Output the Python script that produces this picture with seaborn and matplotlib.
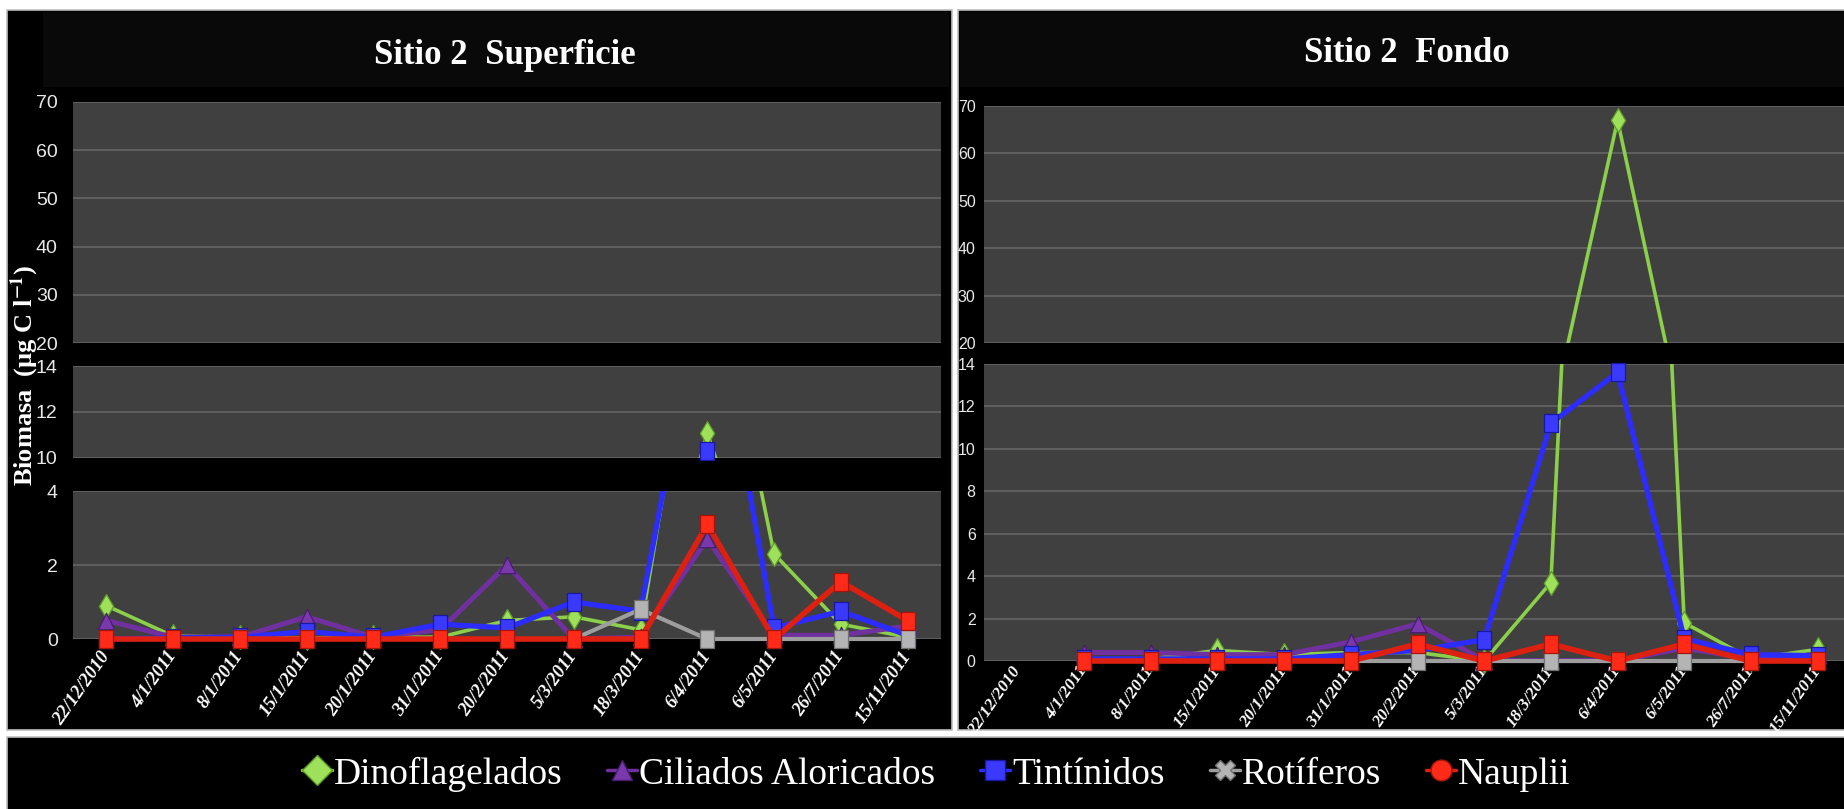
import numpy as np
import pandas as pd
import matplotlib
matplotlib.use('Agg')
import matplotlib.pyplot as plt
import seaborn as sns
from matplotlib.patches import Rectangle
from matplotlib.lines import Line2D
from matplotlib.font_manager import FontProperties

# ---------------- data ----------------
dates = ['22/12/2010', '4/1/2011', '8/1/2011', '15/1/2011', '20/1/2011', '31/1/2011',
         '20/2/2011', '5/3/2011', '18/3/2011', '6/4/2011', '6/5/2011', '26/7/2011', '15/11/2011']
series_names = ['Dinoflagelados', 'Ciliados Aloricados', 'Tintínidos', 'Rotíferos', 'Nauplii']

# Sitio 2 Superficie
sup_dino = [0.9, 0.08, 0.05, 0.03, 0.05, 0.05, 0.5, 0.6, 0.25, 11.1, 2.3, 0.4, 0.05]
sup_cil  = [0.5, 0.05, 0.05, 0.6, 0.05, 0.25, 2.0, 0.0, 0.05, 2.7, 0.1, 0.1, 0.35]
sup_tin  = [0.0, 0.03, 0.05, 0.2, 0.05, 0.4, 0.3, 1.0, 0.75, 10.3, 0.3, 0.75, 0.1]
sup_rot  = [0.0, 0.0, 0.0, 0.0, 0.0, 0.0, 0.0, 0.0, 0.8, 0.0, 0.0, 0.0, 0.0]
sup_nau  = [0.0, 0.0, 0.0, 0.0, 0.0, 0.0, 0.0, 0.0, 0.0, 3.1, 0.0, 1.55, 0.5]

# Sitio 2 Fondo
nan = np.nan
fon_dino = [nan, 0.1, 0.1, 0.5, 0.3, 0.4, 0.4, 0.0, 3.7, 67.0, 1.8, 0.1, 0.55]
fon_cil  = [nan, 0.4, 0.4, 0.3, 0.3, 0.9, 1.75, 0.02, 0.02, 0.02, 0.6, 0.1, 0.3]
fon_tin  = [nan, 0.1, 0.1, 0.1, 0.1, 0.3, 0.5, 1.0, 11.2, 13.6, 1.05, 0.3, 0.25]
fon_rot  = [nan, 0.0, 0.0, 0.0, 0.0, 0.0, 0.0, 0.0, 0.0, 0.0, 0.0, 0.0, 0.0]
fon_nau  = [nan, 0.0, 0.0, 0.0, 0.0, 0.0, 0.8, 0.0, 0.8, 0.0, 0.8, 0.0, 0.0]

sup_values = [sup_dino, sup_cil, sup_tin, sup_rot, sup_nau]
fon_values = [fon_dino, fon_cil, fon_tin, fon_rot, fon_nau]

# ---------------- styles ----------------
sns.set_style('dark')
plt.rcParams['font.family'] = ['Liberation Serif', 'DejaVu Serif']
plt.rcParams['mathtext.fontset'] = 'stix'

tall_rect = [(-0.72, -1.0), (0.72, -1.0), (0.72, 1.0), (-0.72, 1.0), (-0.72, -1.0)]

styles = {
    'Dinoflagelados':      dict(line='#8ccf4a', face='#9ee05a', edge='#5b9a2a', lw=2.6, marker='d', s=150, z=2),
    'Ciliados Aloricados': dict(line='#7030a0', face='#7a38ad', edge='#4a1c6e', lw=3.6, marker='^', s=140, z=3),
    'Tintínidos':          dict(line='#2c2cff', face='#3a3aff', edge='#1818a0', lw=3.8, marker=tall_rect, s=170, z=4),
    'Rotíferos':           dict(line='#9e9e9e', face='#b4b4b4', edge='#707070', lw=3.0, marker=tall_rect, s=170, z=5),
    'Nauplii':             dict(line='#dd2010', face='#ff2a18', edge='#a51408', lw=4.0, marker=tall_rect, s=180, z=6),
}

W, H = 1844, 809
fig = plt.figure(figsize=(W / 100, H / 100), dpi=100, facecolor='white')


def frect(x0, y0, x1, y1):
    return [x0 / W, 1 - y1 / H, (x1 - x0) / W, (y1 - y0) / H]


def add_box(x0, y0, x1, y1, color, edge='none', lw=0, z=-5):
    r = frect(x0, y0, x1, y1)
    fig.patches.append(Rectangle((r[0], r[1]), r[2], r[3], transform=fig.transFigure,
                                 facecolor=color, edgecolor=edge, lw=lw, zorder=z))


add_box(7, 10, 952, 730, 'black', '#bdbdbd', 1.2)
add_box(958, 10, 1860, 730, 'black', '#bdbdbd', 1.2)
add_box(7, 737, 1860, 815, 'black', '#bdbdbd', 1.2)
add_box(43, 12, 949, 87, '#090909', z=-4)
add_box(960, 12, 1844, 87, '#090909', z=-4)

tick_font = ['Liberation Sans Narrow', 'Liberation Sans', 'DejaVu Sans']


def draw(ax, values_list, lo, hi, ticks, show_x, extend_bottom, tick_size, ypad, xpad, xsize):
    ax.set_zorder(2)
    ax.set_facecolor('#404040')
    ax.set_xlim(-0.5, 12.5)
    ax.set_ylim(lo, hi)
    ax_h_px = ax.get_position().height * H
    for name, vals in zip(series_names, values_list):
        st = styles[name]
        df = pd.DataFrame({'x': np.arange(len(dates)), 'y': vals}).dropna()
        sns.lineplot(data=df, x='x', y='y', ax=ax, color=st['line'], lw=st['lw'],
                     estimator=None, sort=False, legend=False, zorder=st['z'])
        ln = ax.lines[-1]
        e = (5 / ax_h_px) if extend_bottom else 0.0
        clip = Rectangle((0, -e), 1, 1 + e, transform=ax.transAxes)
        ln.set_clip_path(clip)
        sub = df[(df['y'] >= lo) & (df['y'] <= hi)]
        if len(sub):
            sns.scatterplot(data=sub, x='x', y='y', ax=ax, marker=st['marker'], s=st['s'],
                            color=st['face'], edgecolor=st['edge'], linewidth=0.9,
                            clip_on=False, zorder=st['z'] + 0.5, legend=False)
    ax.set_xlabel('')
    ax.set_ylabel('')
    ax.yaxis.grid(True, color='#626262', lw=1.3)
    ax.xaxis.grid(False)
    ax.set_axisbelow(True)
    for sp in ax.spines.values():
        sp.set_visible(False)
    ax.tick_params(axis='y', length=0, pad=ypad)
    ax.tick_params(axis='x', length=0, pad=xpad)
    ax.set_yticks(ticks)
    ax.set_yticklabels([str(t) for t in ticks], fontfamily=tick_font, fontsize=tick_size,
                       color='#e8e8e8')
    ax.set_xticks(range(len(dates)))
    if show_x:
        fp = FontProperties(family='Liberation Serif', weight='bold', style='italic', size=xsize)
        ax.set_xticklabels(dates, rotation=55, ha='right', va='center', rotation_mode='anchor',
                           fontproperties=fp, color='white')
    else:
        ax.set_xticklabels([])


# Left panel: three segments
left_segs = [((102, 343), 20, 70, [20, 30, 40, 50, 60, 70], False),
             ((366, 458), 10, 14, [10, 12, 14], False),
             ((491, 639), 0, 4, [0, 2, 4], True)]
for (y0, y1), lo, hi, ticks, last in left_segs:
    ax = fig.add_axes(frect(73, y0, 941, y1))
    draw(ax, sup_values, lo, hi, ticks, last, last, 14, 11, 10, 13.5)

# Right panel: two segments
right_segs = [((106, 343), 20, 70, [20, 30, 40, 50, 60, 70], False),
              ((364, 661), 0, 14, [0, 2, 4, 6, 8, 10, 12, 14], True)]
for (y0, y1), lo, hi, ticks, last in right_segs:
    ax = fig.add_axes(frect(984, y0, 1851, y1))
    draw(ax, fon_values, lo, hi, ticks, last, last, 11.5, 6, 5, 12.5)

# Titles
fig.text(505 / W, 1 - 55 / H, 'Sitio 2  Superficie', ha='center', va='center',
         fontfamily='Liberation Serif', fontweight='bold', fontsize=25, color='white', zorder=5)
fig.text(1407 / W, 1 - 53 / H, 'Sitio 2  Fondo', ha='center', va='center',
         fontfamily='Liberation Serif', fontweight='bold', fontsize=25, color='white', zorder=5)

# Y label
fig.text(25 / W, 1 - 376 / H, r'Biomasa  (µg C l$^{\mathbf{-1}}$)', ha='center', va='center',
         rotation=90, fontfamily='Liberation Serif', fontweight='bold', fontsize=19, color='white',
         zorder=5)

# Legend
legend_markers = {'Dinoflagelados': 'D', 'Ciliados Aloricados': '^', 'Tintínidos': 's',
                  'Rotíferos': 'X', 'Nauplii': 'o'}
handles = []
for name in series_names:
    st = styles[name]
    handles.append(Line2D([], [], color=st['line'], lw=2.5, marker=legend_markers[name],
                          markersize=15, markerfacecolor=st['face'], markeredgecolor=st['edge']))
leg = fig.legend(handles, series_names, loc='center', bbox_to_anchor=(936 / W, 1 - 774 / H), ncol=5,
                 frameon=False, prop=FontProperties(family='Liberation Serif', size=27),
                 labelcolor='white', handlelength=0.8, handletextpad=0.05, columnspacing=1.2)
leg.set_zorder(5)

fig.savefig('out.png', dpi=100, facecolor='white')
